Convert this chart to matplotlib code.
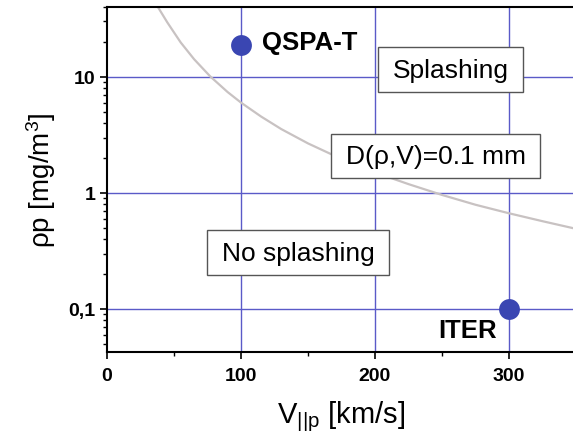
import matplotlib.pyplot as plt

plt.rcParams["font.family"] = ["Liberation Sans", "DejaVu Sans"]
plt.rcParams["mathtext.fontset"] = "custom"
plt.rcParams["mathtext.rm"] = "Liberation Sans"
plt.rcParams["mathtext.it"] = "Liberation Sans"

# splashing threshold D(rho, V) = 0.1 mm
curve_v = [38, 45, 55, 65, 77, 90, 100, 115, 130, 150, 175, 200, 225, 250, 275, 300, 325, 350]
curve_rho = [40, 29.5, 19.8, 14.2, 10.1, 7.4, 6.0, 4.55, 3.55, 2.67, 1.96, 1.5, 1.19, 0.96, 0.79, 0.667, 0.57, 0.49]

# machines
machines = ["QSPA-T", "ITER"]
machine_v = [100, 300]
machine_rho = [19, 0.1]

ytick_vals = [0.1, 1, 10]
ytick_labels = ["0,1", "1", "10"]
xtick_vals = [0, 100, 200, 300]

fig = plt.figure(figsize=(5.73, 4.35), dpi=100)
ax = fig.add_axes([0.1867, 0.1885, 0.8185, 0.7931])

ax.set_yscale("log")
ax.set_xlim(0, 350)
ax.set_ylim(0.0425, 40)

grid_color = "#5a5ac8"
for v in xtick_vals[1:]:
    ax.axvline(v, color=grid_color, lw=1.0, zorder=1)
for r in ytick_vals:
    ax.axhline(r, color=grid_color, lw=1.0, zorder=1)

ax.plot(curve_v, curve_rho, color="#c8c2c2", lw=1.6, zorder=2)

ax.plot(machine_v, machine_rho, "o", color="#3a46b2", ms=15, mec="none", zorder=4)

ax.text(115.5, 20, machines[0], fontsize=18.5, fontweight="bold",
        ha="left", va="center", zorder=5)
ax.text(269, 0.066, machines[1], fontsize=18.5, fontweight="bold",
        ha="center", va="center", zorder=5)

# wider horizontal than vertical padding around the region labels
box = dict(boxstyle="square,pad=0.55", mutation_aspect=0.72,
           fc="white", ec="#555555", lw=1.0)
ax.text(256.5, 11.5, "Splashing", fontsize=19, ha="center", va="center", bbox=box, zorder=5)
ax.text(245.5, 2.08, "D(\u03c1,V)=0.1 mm", fontsize=19, ha="center", va="center", bbox=box, zorder=5)
ax.text(142.5, 0.304, "No splashing", fontsize=19, ha="center", va="center", bbox=box, zorder=5)

ax.set_xticks(xtick_vals)
ax.set_xticks([50, 150, 250], minor=True)
ax.set_yticks(ytick_vals, labels=ytick_labels)
for lab in ax.get_xticklabels() + ax.get_yticklabels():
    lab.set_fontweight("bold")
ax.tick_params(which="major", direction="out", length=5, width=1.2, labelsize=14, pad=3)
ax.tick_params(which="minor", direction="out", length=3, width=1.0)
ax.tick_params(axis="x", pad=6)

for s in ax.spines.values():
    s.set_linewidth(1.5)
    s.set_color("black")

ax.set_xlabel("V$_{||\\mathrm{p}}$ [km/s]", fontsize=21, labelpad=10)
ax.set_ylabel("\u03c1p [mg/m$^3$]", fontsize=20, labelpad=8)

fig.savefig("out.png", dpi=100)
